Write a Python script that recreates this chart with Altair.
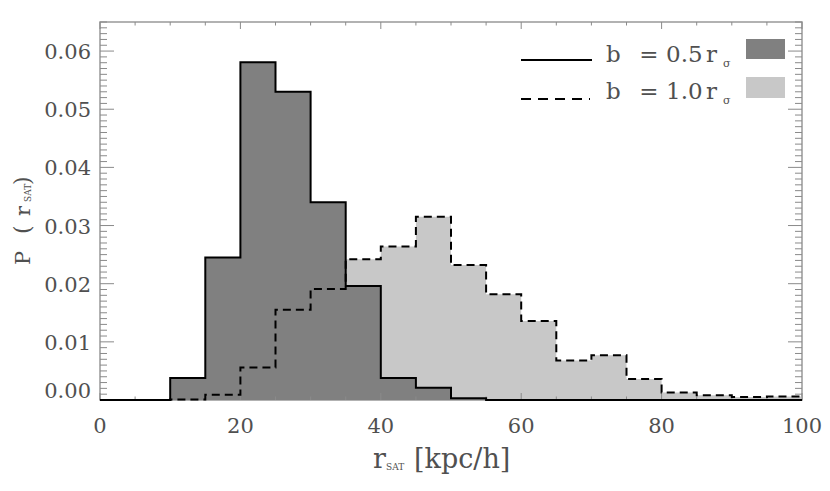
import altair as alt
import pandas as pd

# ---------------- data ----------------
bin_left = [0, 5, 10, 15, 20, 25, 30, 35, 40, 45, 50, 55, 60, 65, 70, 75, 80, 85, 90, 95]
bin_right_end = 100
p_b05 = [0.0, 0.0, 0.0038, 0.0245, 0.0581, 0.0530, 0.0340, 0.0196, 0.0038, 0.0021,
         0.0003, 0.0, 0.0, 0.0, 0.0, 0.0, 0.0, 0.0, 0.0, 0.0]
p_b10 = [0.0, 0.0, 0.0001, 0.0009, 0.0056, 0.0155, 0.0191, 0.0242, 0.0264, 0.0315,
         0.0232, 0.0182, 0.0136, 0.0068, 0.0077, 0.0036, 0.0013, 0.0008, 0.0005, 0.0006]

x_major = [0, 20, 40, 60, 80, 100]
x_labels = ["0", "20", "40", "60", "80", "100"]
x_minor = [5, 10, 15, 25, 30, 35, 45, 50, 55, 65, 70, 75, 85, 90, 95]
y_major = [0.0, 0.01, 0.02, 0.03, 0.04, 0.05, 0.06]
y_labels = ["0.00", "0.01", "0.02", "0.03", "0.04", "0.05", "0.06"]
y_minor = [round(i / 1000, 3) for i in range(1, 66) if i % 10 != 0]

# ---------------- styling ----------------
W, H = 702, 378
FONT = "DejaVu Serif"
TXT = "#505050"
TICK = "#8a8a8a"
DARK = "#808080"
LIGHT = "#c8c8c8"

xs = alt.Scale(domain=[0, 100], nice=False, zero=False)
ys = alt.Scale(domain=[0, 0.065], nice=False, zero=False)


def steps(vals):
    return pd.DataFrame({"x": bin_left + [bin_right_end], "p": vals + [vals[-1]]})


df05 = steps(p_b05)
df10 = steps(p_b10)

X = alt.X("x:Q", scale=xs, axis=None)
Y = alt.Y("p:Q", scale=ys, axis=None)

area10 = alt.Chart(df10).mark_area(interpolate="step-after", color=LIGHT).encode(x=X, y=Y)
area05 = alt.Chart(df05).mark_area(interpolate="step-after", color=DARK).encode(x=X, y=Y)
line10 = alt.Chart(df10).mark_line(interpolate="step-after", color="black",
                                   strokeWidth=2, strokeDash=[8, 5]).encode(x=X, y=Y)
line05 = alt.Chart(df05).mark_line(interpolate="step-after", color="black",
                                   strokeWidth=2).encode(x=X, y=Y)


# ---------------- inward ticks on all four sides ----------------
def yticks(vals, length):
    d = pd.DataFrame({"v": vals})
    left = alt.Chart(d).mark_rule(color=TICK, strokeWidth=1).encode(
        y=alt.Y("v:Q", scale=ys, axis=None), x=alt.value(0), x2=alt.value(length))
    right = alt.Chart(d).mark_rule(color=TICK, strokeWidth=1).encode(
        y=alt.Y("v:Q", scale=ys, axis=None), x=alt.value(W - length), x2=alt.value(W))
    return [left, right]


def xticks(vals, length):
    d = pd.DataFrame({"v": vals})
    bottom = alt.Chart(d).mark_rule(color=TICK, strokeWidth=1).encode(
        x=alt.X("v:Q", scale=xs, axis=None), y=alt.value(H - length), y2=alt.value(H))
    top = alt.Chart(d).mark_rule(color=TICK, strokeWidth=1).encode(
        x=alt.X("v:Q", scale=xs, axis=None), y=alt.value(0), y2=alt.value(length))
    return [bottom, top]


tick_layers = yticks(y_major, 14) + yticks(y_minor, 7) + xticks(x_major, 7) + xticks(x_minor, 3.5)

# ---------------- tick labels ----------------
xlab = alt.Chart(pd.DataFrame({"v": x_major, "lab": x_labels})).mark_text(
    font=FONT, fontSize=21, color=TXT, align="center", baseline="alphabetic").encode(
    x=alt.X("v:Q", scale=xs, axis=None), y=alt.value(H + 33), text="lab:N")
ylab_main = alt.Chart(pd.DataFrame({"v": y_major[1:], "lab": y_labels[1:]})).mark_text(
    font=FONT, fontSize=21, color=TXT, align="right", baseline="middle", dy=2).encode(
    y=alt.Y("v:Q", scale=ys, axis=None), x=alt.value(-9), text="lab:N")
ylab_zero = alt.Chart(pd.DataFrame({"v": y_major[:1], "lab": y_labels[:1]})).mark_text(
    font=FONT, fontSize=21, color=TXT, align="right", baseline="middle", dy=-8).encode(
    y=alt.Y("v:Q", scale=ys, axis=None), x=alt.value(-9), text="lab:N")

# ---------------- legend ----------------
one = pd.DataFrame({"a": [0]})


def txt(s, x, y, size=23, align="left", baseline="alphabetic", angle=0):
    kw = dict(text=s, font=FONT, fontSize=size, color=TXT, align=align, baseline=baseline)
    if angle:
        kw["angle"] = angle
    return alt.Chart(one).mark_text(**kw).encode(x=alt.value(x), y=alt.value(y))


leg_solid = alt.Chart(one).mark_rule(color="black", strokeWidth=2).encode(
    x=alt.value(421), x2=alt.value(492), y=alt.value(38))
leg_dash = alt.Chart(one).mark_rule(color="black", strokeWidth=2, strokeDash=[10, 7]).encode(
    x=alt.value(421), x2=alt.value(490), y=alt.value(77))
sw_dark = alt.Chart(one).mark_rect(color=DARK).encode(
    x=alt.value(646), x2=alt.value(685), y=alt.value(17), y2=alt.value(37))
sw_light = alt.Chart(one).mark_rect(color=LIGHT).encode(
    x=alt.value(646), x2=alt.value(685), y=alt.value(55), y2=alt.value(76))

legend_layers = [
    leg_solid, leg_dash, sw_dark, sw_light,
    txt("b", 506, 40), txt("=", 549, 40, align="center"), txt("0.5", 566, 40),
    txt("r", 606, 40), txt("σ", 623, 45, size=11),
    txt("b", 506, 77), txt("=", 549, 77, align="center"), txt("1.0", 566, 77),
    txt("r", 606, 77), txt("σ", 623, 82, size=11),
]

# ---------------- axis titles ----------------
title_layers = [
    # x title: r_SAT [kpc/h]
    txt("r", 273, 446, size=27), txt("SAT", 286, 448, size=9),
    txt("[kpc/h]", 314, 446, size=27),
    # y title: P(r_SAT), rotated
    txt("P", -70, 243, size=21, angle=270),
    txt("(", -70, 212, size=22, angle=270),
    txt("r", -70, 194, size=21, angle=270),
    txt("SAT", -69, 180, size=9, angle=270),
    txt(")", -70, 163, size=22, angle=270),
]

chart = alt.layer(
    area10, area05, *tick_layers, line10, line05, xlab, ylab_main, ylab_zero,
    *legend_layers, *title_layers
).properties(
    width=W, height=H,
    autosize=alt.AutoSizeParams(type="none"),
    padding={"left": 92, "top": 14, "right": 20, "bottom": 83},
).configure_view(stroke="#999999", strokeWidth=1.5)

chart.save("out.html", embed_options={"renderer": "svg", "actions": False})
